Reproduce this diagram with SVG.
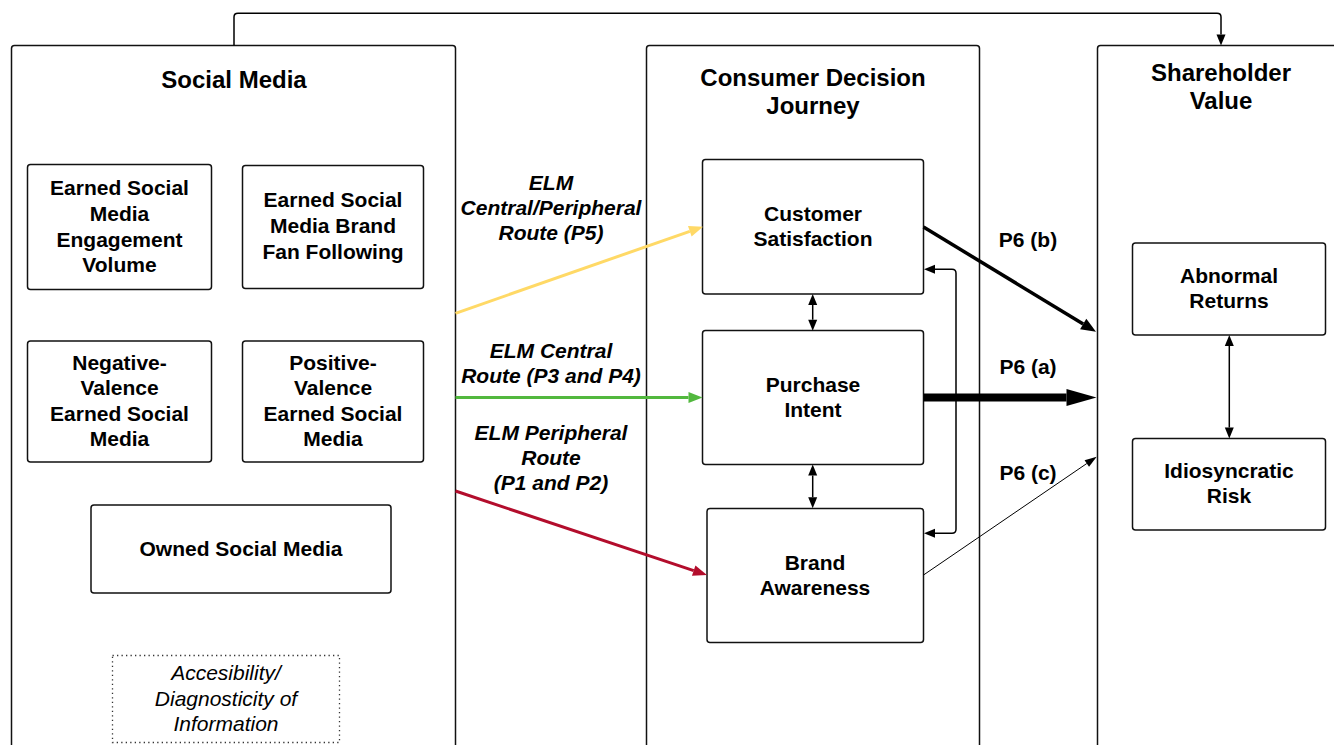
<svg xmlns="http://www.w3.org/2000/svg" width="1334" height="745" viewBox="0 0 1334 745">
<style>
  .cont{fill:#fff;stroke:#111;stroke-width:1.5}
  .box{fill:#fff;stroke:#111;stroke-width:1.5}
  .dot{fill:none;stroke:#333;stroke-width:1.3;stroke-dasharray:1.3 3.2}
  .t{font-family:"Liberation Sans",Arial,sans-serif;font-weight:bold;font-size:21px;fill:#000;text-anchor:middle}
  .title{font-size:24px}
  .it{font-style:italic}
  .ni{font-family:"Liberation Sans",Arial,sans-serif;font-style:italic;font-size:21px;fill:#000;text-anchor:middle}
  .ln{fill:none;stroke:#000;stroke-width:1.5}
</style>
<defs>
  <marker id="ah" markerUnits="userSpaceOnUse" markerWidth="12" markerHeight="10" orient="auto-start-reverse" overflow="visible" refX="0" refY="0"><path d="M0,-4.5 L11,0 L0,4.5 z" fill="#000"/></marker>
  <marker id="ahy" markerUnits="userSpaceOnUse" markerWidth="15" markerHeight="11" orient="auto" overflow="visible" refX="0" refY="0"><path d="M0,-5.5 L14,0 L0,5.5 z" fill="#FFD966"/></marker>
  <marker id="ahg" markerUnits="userSpaceOnUse" markerWidth="15" markerHeight="11" orient="auto" overflow="visible" refX="0" refY="0"><path d="M0,-5.5 L14,0 L0,5.5 z" fill="#52B83E"/></marker>
  <marker id="ahr" markerUnits="userSpaceOnUse" markerWidth="15" markerHeight="11" orient="auto" overflow="visible" refX="0" refY="0"><path d="M0,-5.5 L14,0 L0,5.5 z" fill="#B30D2C"/></marker>
  <marker id="ahb" markerUnits="userSpaceOnUse" markerWidth="16" markerHeight="12" orient="auto" overflow="visible" refX="0" refY="0"><path d="M0,-6 L15,0 L0,6 z" fill="#000"/></marker>
  <marker id="aha" markerUnits="userSpaceOnUse" markerWidth="31" markerHeight="17" orient="auto" overflow="visible" refX="0" refY="0"><path d="M0,-8.5 L30,0 L0,8.5 z" fill="#000"/></marker>
  <marker id="ahc" markerUnits="userSpaceOnUse" markerWidth="13" markerHeight="9" orient="auto" overflow="visible" refX="0" refY="0"><path d="M0,-4 L12,0 L0,4 z" fill="#000"/></marker>
</defs>
<rect width="1334" height="745" fill="#fff"/>

<g id="social-media">
  <rect class="cont" x="11.5" y="45.5" width="444" height="720" rx="3"/>
  <text class="t title" x="234" y="88">Social Media</text>
</g>
<g id="cdj">
  <rect class="cont" x="646.5" y="45.5" width="333" height="720" rx="3"/>
  <text class="t title" x="813" y="86">Consumer Decision</text>
  <text class="t title" x="813" y="114">Journey</text>
</g>
<g id="shareholder">
  <rect class="cont" x="1097.5" y="45.5" width="260" height="720" rx="3"/>
  <text class="t title" x="1221" y="81">Shareholder</text>
  <text class="t title" x="1221" y="109">Value</text>
</g>

<g id="n-engagement">
  <rect class="box" x="27.5" y="164.5" width="184" height="125" rx="3"/>
  <text class="t" x="119.5" y="195">Earned Social</text>
  <text class="t" x="119.5" y="221">Media</text>
  <text class="t" x="119.5" y="246.5">Engagement</text>
  <text class="t" x="119.5" y="272">Volume</text>
</g>
<g id="n-fan">
  <rect class="box" x="242.5" y="165.5" width="181" height="123" rx="3"/>
  <text class="t" x="333" y="207">Earned Social</text>
  <text class="t" x="333" y="233">Media Brand</text>
  <text class="t" x="333" y="258.5">Fan Following</text>
</g>
<g id="n-negative">
  <rect class="box" x="27.5" y="341" width="184" height="121" rx="3"/>
  <text class="t" x="119.5" y="369.5">Negative-</text>
  <text class="t" x="119.5" y="395">Valence</text>
  <text class="t" x="119.5" y="420.5">Earned Social</text>
  <text class="t" x="119.5" y="446">Media</text>
</g>
<g id="n-positive">
  <rect class="box" x="242.5" y="341" width="181" height="121" rx="3"/>
  <text class="t" x="333" y="369.5">Positive-</text>
  <text class="t" x="333" y="395">Valence</text>
  <text class="t" x="333" y="420.5">Earned Social</text>
  <text class="t" x="333" y="446">Media</text>
</g>
<g id="n-owned">
  <rect class="box" x="91" y="505" width="300" height="88" rx="3"/>
  <text class="t" x="241" y="555.5">Owned Social Media</text>
</g>
<g id="n-access">
  <rect class="dot" x="112.5" y="655.5" width="227" height="87"/>
  <text class="ni" x="226" y="679.5">Accesibility/</text>
  <text class="ni" x="226" y="705.5">Diagnosticity of</text>
  <text class="ni" x="226" y="730.5">Information</text>
</g>

<g id="n-satisfaction">
  <rect class="box" x="702.5" y="159.5" width="221" height="134.5" rx="3"/>
  <text class="t" x="813" y="221">Customer</text>
  <text class="t" x="813" y="246">Satisfaction</text>
</g>
<g id="n-intent">
  <rect class="box" x="702.5" y="330.5" width="221" height="134" rx="3"/>
  <text class="t" x="813" y="391.5">Purchase</text>
  <text class="t" x="813" y="416.5">Intent</text>
</g>
<g id="n-awareness">
  <rect class="box" x="707" y="508.5" width="216.5" height="134" rx="3"/>
  <text class="t" x="815" y="569.5">Brand</text>
  <text class="t" x="815" y="594.5">Awareness</text>
</g>

<g id="n-abnormal">
  <rect class="box" x="1132.5" y="243" width="193" height="92" rx="3"/>
  <text class="t" x="1229" y="282.5">Abnormal</text>
  <text class="t" x="1229" y="307.5">Returns</text>
</g>
<g id="n-risk">
  <rect class="box" x="1132.5" y="438.5" width="193" height="91.5" rx="3"/>
  <text class="t" x="1229" y="478">Idiosyncratic</text>
  <text class="t" x="1229" y="503">Risk</text>
</g>

<g id="connectors">
  <path class="ln" d="M234,45.5 V17 Q234,13.3 238,13.3 H1217 Q1221,13.3 1221,17 V34.5" marker-end="url(#ah)"/>
  <line x1="455.5" y1="313.3" x2="689.8" y2="231.3" stroke="#FFD966" stroke-width="3" marker-end="url(#ahy)"/>
  <line x1="455.5" y1="397.5" x2="688.5" y2="397.5" stroke="#52B83E" stroke-width="3" marker-end="url(#ahg)"/>
  <line x1="455.5" y1="491" x2="693.7" y2="570.6" stroke="#B30D2C" stroke-width="3" marker-end="url(#ahr)"/>
  <line class="ln" x1="812.7" y1="305" x2="812.7" y2="319.7" marker-start="url(#ah)" marker-end="url(#ah)"/>
  <line class="ln" x1="812.7" y1="475.5" x2="812.7" y2="497.3" marker-start="url(#ah)" marker-end="url(#ah)"/>
  <path class="ln" d="M935,269.3 H952 Q956,269.3 956,273.3 V529.3 Q956,533.3 952,533.3 H935" marker-start="url(#ah)" marker-end="url(#ah)"/>
  <line x1="923.5" y1="227" x2="1083.2" y2="324" stroke="#000" stroke-width="3.5" marker-end="url(#ahb)"/>
  <line x1="923.5" y1="397.5" x2="1066.5" y2="397.5" stroke="#000" stroke-width="8" marker-end="url(#aha)"/>
  <line x1="923.5" y1="575" x2="1086.8" y2="463.5" stroke="#000" stroke-width="1" marker-end="url(#ahc)"/>
  <line class="ln" x1="1229.3" y1="346" x2="1229.3" y2="427.5" marker-start="url(#ah)" marker-end="url(#ah)"/>
</g>

<g id="labels">
  <text class="t it" x="551" y="190">ELM</text>
  <text class="t it" x="551" y="215">Central/Peripheral</text>
  <text class="t it" x="551" y="240">Route (P5)</text>
  <text class="t it" x="551" y="357.5">ELM Central</text>
  <text class="t it" x="551" y="382.5">Route (P3 and P4)</text>
  <text class="t it" x="551" y="440">ELM Peripheral</text>
  <text class="t it" x="551" y="465">Route</text>
  <text class="t it" x="551" y="490">(P1 and P2)</text>
  <text class="t" x="1028" y="247">P6 (b)</text>
  <text class="t" x="1028" y="374">P6 (a)</text>
  <text class="t" x="1028" y="480">P6 (c)</text>
</g>
</svg>
